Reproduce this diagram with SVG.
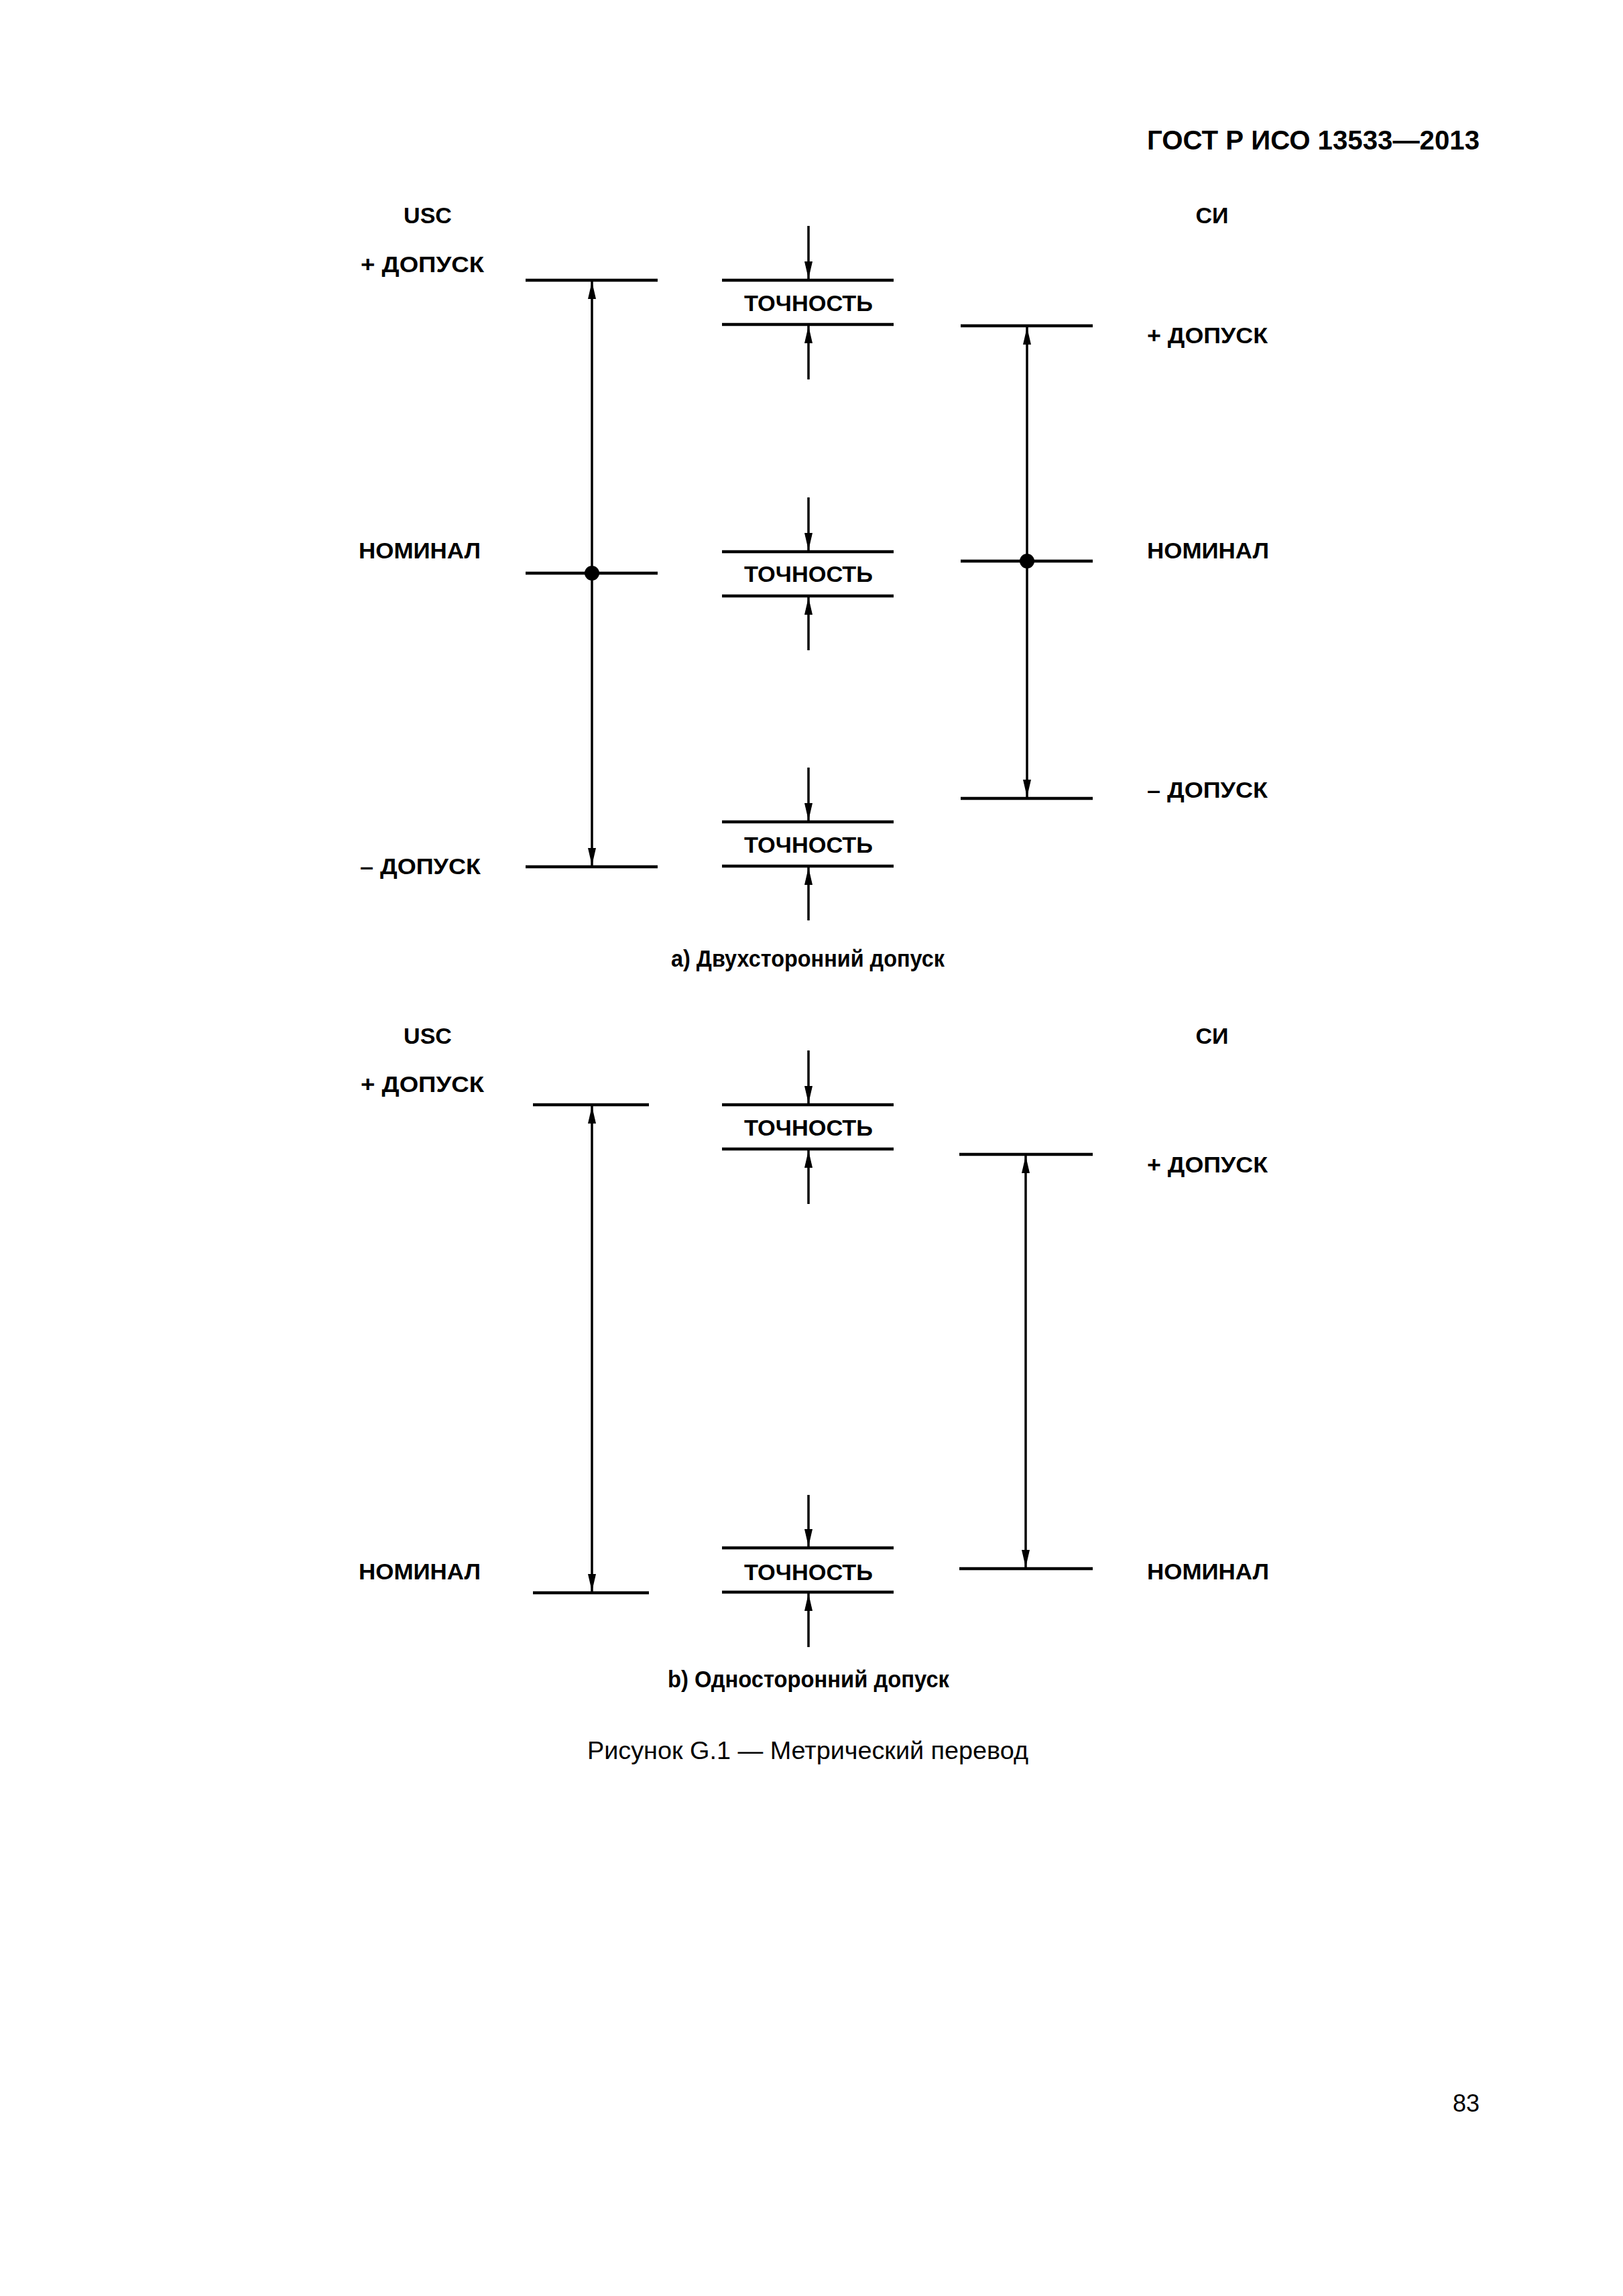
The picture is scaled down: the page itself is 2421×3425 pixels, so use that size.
<svg xmlns="http://www.w3.org/2000/svg" width="2421" height="3425" viewBox="0 0 2421 3425">
<style>
text{font-family:"Liberation Sans",Arial,sans-serif;fill:#000}
.lb{font-size:34px;font-weight:bold}
.c{text-anchor:middle}
.hd{font-size:40px;font-weight:bold}
.capb{font-size:35px;font-weight:bold}
.cap{font-size:36px}
.ln{stroke:#000;stroke-width:4.5;fill:none}
.ar{stroke:#000;stroke-width:3.5;fill:none}
</style>
<defs>
<marker id="ah" viewBox="0 0 26 12" refX="26" refY="6" markerWidth="26" markerHeight="12" markerUnits="userSpaceOnUse" orient="auto">
<path d="M0,0 L26,6 L0,12 Z" fill="#000"/>
</marker>
</defs>
<rect width="2421" height="3425" fill="#fff"/>
<g id="header">
<text class="hd" x="2207" y="223" text-anchor="end" textLength="496" lengthAdjust="spacingAndGlyphs">ГОСТ Р ИСО 13533—2013</text>
</g>

<!-- Part a -->
<g id="a-labels">
<text class="lb c" x="638" y="333">USC</text>
<text class="lb" x="538" y="406" textLength="184" lengthAdjust="spacingAndGlyphs">+ ДОПУСК</text>
<text class="lb" x="535" y="833" textLength="182" lengthAdjust="spacingAndGlyphs">НОМИНАЛ</text>
<text class="lb" x="537" y="1304" textLength="180" lengthAdjust="spacingAndGlyphs">– ДОПУСК</text>
<text class="lb c" x="1808" y="333">СИ</text>
<text class="lb" x="1711" y="512" textLength="180" lengthAdjust="spacingAndGlyphs">+ ДОПУСК</text>
<text class="lb" x="1711" y="833" textLength="182" lengthAdjust="spacingAndGlyphs">НОМИНАЛ</text>
<text class="lb" x="1711" y="1190" textLength="180" lengthAdjust="spacingAndGlyphs">– ДОПУСК</text>
</g>
<g id="a-usc-lines">
<line class="ln" x1="784" y1="418" x2="981" y2="418"/>
<line class="ln" x1="784" y1="855" x2="981" y2="855"/>
<line class="ln" x1="784" y1="1293" x2="981" y2="1293"/>
<circle cx="883" cy="855" r="11" fill="#000"/>
</g>
<g id="a-si-lines">
<line class="ln" x1="1433" y1="486" x2="1630" y2="486"/>
<line class="ln" x1="1433" y1="837" x2="1630" y2="837"/>
<line class="ln" x1="1433" y1="1191" x2="1630" y2="1191"/>
<circle cx="1532" cy="837" r="11" fill="#000"/>
</g>
<g id="a-acc1">
<line class="ln" x1="1077" y1="418" x2="1333" y2="418"/>
<line class="ln" x1="1077" y1="484" x2="1333" y2="484"/>
<text class="lb c" x="1206" y="464" textLength="192" lengthAdjust="spacingAndGlyphs">ТОЧНОСТЬ</text>
</g>
<g id="a-acc2">
<line class="ln" x1="1077" y1="823" x2="1333" y2="823"/>
<line class="ln" x1="1077" y1="889" x2="1333" y2="889"/>
<text class="lb c" x="1206" y="868" textLength="192" lengthAdjust="spacingAndGlyphs">ТОЧНОСТЬ</text>
</g>
<g id="a-acc3">
<line class="ln" x1="1077" y1="1226" x2="1333" y2="1226"/>
<line class="ln" x1="1077" y1="1292" x2="1333" y2="1292"/>
<text class="lb c" x="1206" y="1272" textLength="192" lengthAdjust="spacingAndGlyphs">ТОЧНОСТЬ</text>
</g>
<g id="a-caption">
<text class="capb c" x="1205" y="1442" textLength="408" lengthAdjust="spacingAndGlyphs">а) Двухсторонний допуск</text>
</g>

<!-- Part b -->
<g id="b-labels">
<text class="lb c" x="638" y="1557">USC</text>
<text class="lb" x="538" y="1629" textLength="184" lengthAdjust="spacingAndGlyphs">+ ДОПУСК</text>
<text class="lb" x="535" y="2356" textLength="182" lengthAdjust="spacingAndGlyphs">НОМИНАЛ</text>
<text class="lb c" x="1808" y="1557">СИ</text>
<text class="lb" x="1711" y="1749" textLength="180" lengthAdjust="spacingAndGlyphs">+ ДОПУСК</text>
<text class="lb" x="1711" y="2356" textLength="182" lengthAdjust="spacingAndGlyphs">НОМИНАЛ</text>
</g>
<g id="b-usc-lines">
<line class="ln" x1="795" y1="1648" x2="968" y2="1648"/>
<line class="ln" x1="795" y1="2376" x2="968" y2="2376"/>
</g>
<g id="b-si-lines">
<line class="ln" x1="1431" y1="1722" x2="1630" y2="1722"/>
<line class="ln" x1="1431" y1="2340" x2="1630" y2="2340"/>
</g>
<g id="b-acc1">
<line class="ln" x1="1077" y1="1648" x2="1333" y2="1648"/>
<line class="ln" x1="1077" y1="1714" x2="1333" y2="1714"/>
<text class="lb c" x="1206" y="1694" textLength="192" lengthAdjust="spacingAndGlyphs">ТОЧНОСТЬ</text>
</g>
<g id="b-acc2">
<line class="ln" x1="1077" y1="2309" x2="1333" y2="2309"/>
<line class="ln" x1="1077" y1="2375" x2="1333" y2="2375"/>
<text class="lb c" x="1206" y="2357" textLength="192" lengthAdjust="spacingAndGlyphs">ТОЧНОСТЬ</text>
</g>
<g id="b-caption">
<text class="capb c" x="1206" y="2517" textLength="420" lengthAdjust="spacingAndGlyphs">b) Односторонний допуск</text>
</g>

<g id="connectors">
<line class="ar" x1="883" y1="855" x2="883" y2="420" marker-end="url(#ah)"/>
<line class="ar" x1="883" y1="855" x2="883" y2="1291" marker-end="url(#ah)"/>
<line class="ar" x1="1532" y1="837" x2="1532" y2="488" marker-end="url(#ah)"/>
<line class="ar" x1="1532" y1="837" x2="1532" y2="1189" marker-end="url(#ah)"/>
<line class="ar" x1="1206" y1="337" x2="1206" y2="416" marker-end="url(#ah)"/>
<line class="ar" x1="1206" y1="566" x2="1206" y2="486" marker-end="url(#ah)"/>
<line class="ar" x1="1206" y1="742" x2="1206" y2="821" marker-end="url(#ah)"/>
<line class="ar" x1="1206" y1="970" x2="1206" y2="891" marker-end="url(#ah)"/>
<line class="ar" x1="1206" y1="1145" x2="1206" y2="1224" marker-end="url(#ah)"/>
<line class="ar" x1="1206" y1="1373" x2="1206" y2="1294" marker-end="url(#ah)"/>
<line class="ar" x1="883" y1="2012" x2="883" y2="1650" marker-end="url(#ah)"/>
<line class="ar" x1="883" y1="2012" x2="883" y2="2374" marker-end="url(#ah)"/>
<line class="ar" x1="1530" y1="2031" x2="1530" y2="1724" marker-end="url(#ah)"/>
<line class="ar" x1="1530" y1="2031" x2="1530" y2="2338" marker-end="url(#ah)"/>
<line class="ar" x1="1206" y1="1567" x2="1206" y2="1646" marker-end="url(#ah)"/>
<line class="ar" x1="1206" y1="1796" x2="1206" y2="1716" marker-end="url(#ah)"/>
<line class="ar" x1="1206" y1="2230" x2="1206" y2="2307" marker-end="url(#ah)"/>
<line class="ar" x1="1206" y1="2457" x2="1206" y2="2377" marker-end="url(#ah)"/>
</g>

<g id="figure-title">
<text class="cap c" x="1205" y="2624" textLength="658" lengthAdjust="spacingAndGlyphs">Рисунок G.1 — Метрический перевод</text>
</g>
<g id="page-number">
<text class="cap" x="2207" y="3150" text-anchor="end">83</text>
</g>
</svg>
